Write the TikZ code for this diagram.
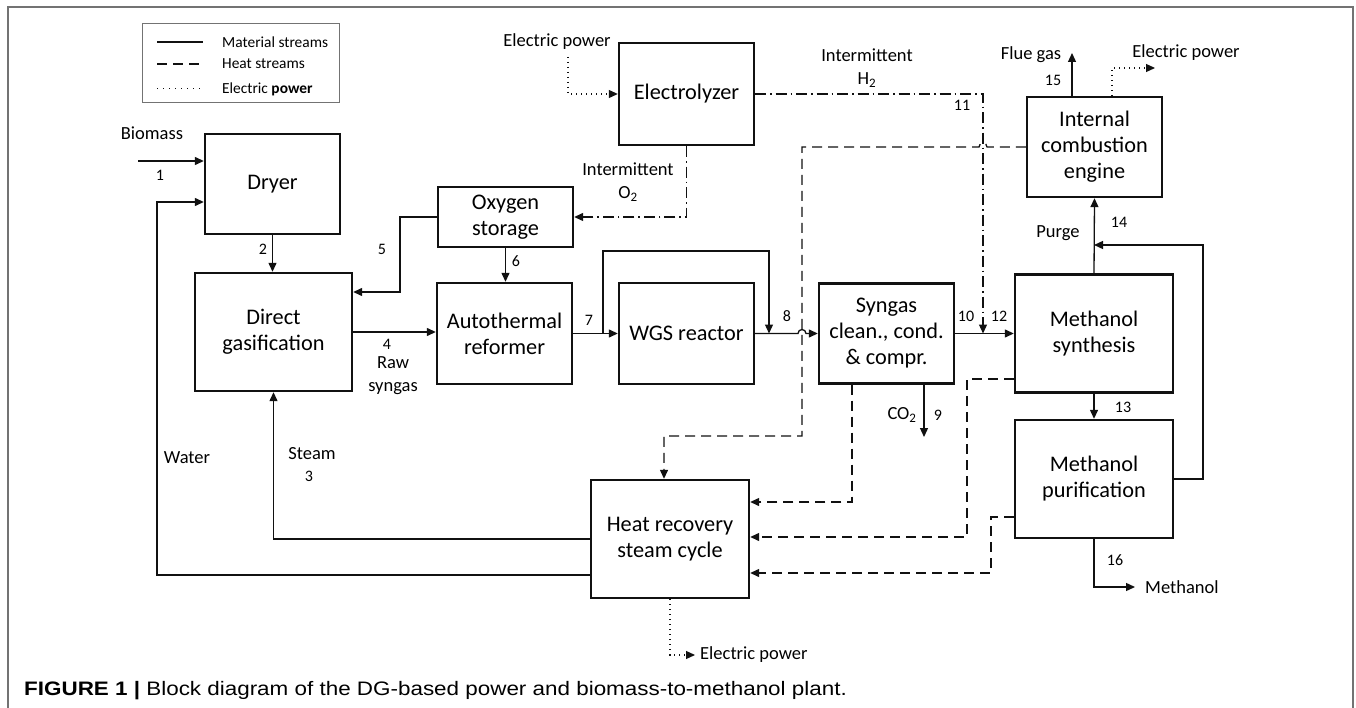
\documentclass[tikz,border=0pt]{standalone}
\usepackage{fontspec}
\setmainfont{Carlito}
\newfontfamily\capfont{Liberation Sans}
\usetikzlibrary{arrows.meta,calc}
\definecolor{framegray}{HTML}{737373}
\definecolor{ink}{HTML}{111111}
\begin{document}
\begin{tikzpicture}[x=1pt,y=-1pt,
  box/.style={draw=ink, line width=2.4pt, align=center, font=\fontsize{22.3}{26}\selectfont, inner sep=0pt},
  tip/.style={-{Triangle[length=9pt,width=8pt]}},
  mat/.style={draw=ink, line width=1.3pt, tip},
  heat/.style={draw=ink, line width=1.3pt, dash pattern=on 10pt off 6pt, tip},
  dd/.style={draw=ink, line width=1.3pt, dash pattern=on 11pt off 4pt on 1.5pt off 4pt, tip},
  elec/.style={draw=ink, line width=1.2pt, dash pattern=on 1pt off 4pt, tip},
  lab/.style={font=\fontsize{18.5}{23}\selectfont, inner sep=0pt, align=center},
  num/.style={font=\fontsize{16}{18}\selectfont, inner sep=0pt},
  leg/.style={font=\fontsize{15.4}{17}\selectfont, inner sep=0pt, anchor=west},
]
\useasboundingbox (0,0) rectangle (1356,708);
\fill[white] (0,0) rectangle (1356,708);
\draw[framegray, line width=1.5pt] (8,708) -- (8,7) -- (1353,7) -- (1353,708);

% legend
\draw[framegray, line width=1pt] (142,24) rectangle (339,103);
\coordinate (lg1a) at (157,42); \coordinate (lg1b) at (203,42);
\coordinate (lg2a) at (157,64); \coordinate (lg2b) at (203,64);
\coordinate (lg3a) at (157,89); \coordinate (lg3b) at (203,89);
\draw[ink, line width=1.3pt] (lg1a) -- (lg1b);
\draw[ink, line width=1.3pt, dash pattern=on 10pt off 6pt] (lg2a) -- (lg2b);
\draw[ink, line width=1pt, dash pattern=on 1pt off 5pt] (lg3a) -- (lg3b);
\node[leg] (lt1) at (222,42) {Material streams};
\node[leg] (lt2) at (222,64) {Heat streams};
\node[leg] (lt3) at (222,89) {Electric \textbf{power}};

% boxes
\node[box, minimum width=135pt, minimum height=100pt] (dryer) at (272.5,184) {Dryer};
\node[box, minimum width=157pt, minimum height=118pt] (gas) at (273.5,332) {Direct\\gasification};
\node[box, minimum width=135pt, minimum height=60pt] (oxy) at (505.5,217) {Oxygen\\storage};
\node[box, minimum width=135pt, minimum height=101pt] (atr) at (504.5,333.5) {Autothermal\\reformer};
\node[box, minimum width=135pt, minimum height=101pt] (wgs) at (686.5,333.5) {WGS reactor};
\node[box, minimum width=135pt, minimum height=100pt] (syn) at (886.5,333.5) {Syngas\\clean., cond.\\\& compr.};
\node[box, minimum width=158pt, minimum height=118pt] (ms) at (1094,333.5) {Methanol\\synthesis};
\node[box, minimum width=158pt, minimum height=118pt] (mp) at (1094,479) {Methanol\\purification};
\node[box, minimum width=135pt, minimum height=100pt] (ice) at (1094.5,147) {Internal\\combustion\\engine};
\node[box, minimum width=135pt, minimum height=102pt] (ely) at (686.5,94) {Electrolyzer};
\node[box, minimum width=158pt, minimum height=118pt] (hr) at (670,539) {Heat recovery\\steam cycle};

% coordinates
\coordinate (bio) at (138,161);
\coordinate (wc1) at (157,575);
\coordinate (wc2) at (157,202);
\coordinate (o5) at (400,292);
\coordinate (b2) at (603,251);
\coordinate (b3) at (769,251);
\coordinate (h2c) at (983,94);
\coordinate (e1) at (568,57);
\coordinate (fg) at (1072,53);
\coordinate (ep0) at (1112,68);
\coordinate (ep) at (1155,68);
\coordinate (rc) at (1203,245);
\coordinate (co2) at (924,437);
\coordinate (m16) at (1094,587);
\coordinate (m16e) at (1135,587);
\coordinate (hi1) at (802,147);
\coordinate (hi2) at (802,436);
\coordinate (hi3) at (664,436);
\coordinate (hs) at (852,502);
\coordinate (hm1) at (967,379);
\coordinate (hm2) at (967,537);
\coordinate (hp1) at (991,517);
\coordinate (hp2) at (991,573);
\coordinate (eh) at (670,655);
\coordinate (eh2) at (695,655);

% material streams
\draw[mat] (bio) -- (bio -| dryer.west);
\draw[mat] (wc1 -| hr.west) -- (wc1) -- (wc2) -- (wc2 -| dryer.west);
\draw[mat] (hr.west) -- (hr.west -| gas.south) -- (gas.south);
\draw[mat] (dryer.south) -- (dryer.south |- gas.north);
\draw[mat] (oxy.west) -- (oxy.west -| o5) -- (o5) -- (o5 -| gas.east);
\draw[mat] (oxy.south) -- (oxy.south |- atr.north);
\draw[mat] (gas.east) -- (gas.east -| atr.west);
\draw[mat] (atr.east) -- (atr.east -| wgs.west);
\draw[mat] (atr.east -| b2) -- (b2) -- (b3) -- (b3 |- wgs.east);
\draw[mat] (wgs.east) -- ($(hi1 |- wgs.east)+(-4pt,0)$) arc[start angle=180, end angle=0, radius=4pt] -- (syn.west);
\draw[mat] (syn.east) -- (syn.east -| ms.west);
\draw[mat] (fg |- ice.north) -- (fg);
\draw[mat] (ms.north) -- (ice.south);
\draw[mat] (mp.east) -- (mp.east -| rc) -- (rc) -- (rc -| ms.north);
\draw[mat] (ms.south) -- (mp.north);
\draw[mat] (co2 |- syn.south) -- (co2);
\draw[mat] (mp.south) -- (m16) -- (m16e);

% hydrogen / oxygen
\draw[dd] (ely.east) -- (h2c) -- (h2c |- syn.east);
\draw[dd] (ely.south) -- (ely.south |- oxy.east) -- (oxy.east);

% heat streams
\draw[heat] (ice.west) -- ($(h2c |- ice.west)+(4pt,0)$) arc[start angle=0, end angle=180, radius=4pt] -- (hi1) -- (hi2) -- (hi3) -- (hi3 |- hr.north);
\draw[heat] (hs |- syn.south) -- (hs) -- (hs -| hr.east);
\draw[heat] (hm1 -| ms.west) -- (hm1) -- (hm2) -- (hm2 -| hr.east);
\draw[heat] (hp1 -| mp.west) -- (hp1) -- (hp2) -- (hp2 -| hr.east);

% electric power
\draw[elec] (e1) -- (e1 |- ely.west) -- (ely.west);
\draw[elec] (ep0 |- ice.north) -- (ep0) -- (ep);
\draw[elec] (hr.south) -- (eh) -- (eh2);

% labels
\node[lab] (tbio) at (152,133) {Biomass};
\node[num] (n1) at (160,175) {1};
\node[num] (n2) at (263,249) {2};
\node[num] (n5) at (382,249) {5};
\node[num] (n4) at (387,344) {4};
\node[lab] (traw) at (393,376) {Raw\\syngas};
\node[num] (n6) at (516,261) {6};
\node[num] (n7) at (589,320) {7};
\node[num] (n8) at (787,316) {8};
\node[lab] (to2) at (628,182) {Intermittent\\O\textsubscript{2}};
\node[lab] (tep1) at (557,42) {Electric power};
\node[lab] (th2) at (867,68) {Intermittent\\H\textsubscript{2}};
\node[num] (n11) at (962,105) {11};
\node[lab] (tfg) at (1031,55) {Flue gas};
\node[num] (n15) at (1053,80) {15};
\node[lab] (tep2) at (1186,53) {Electric power};
\node[num] (n14) at (1119,222) {14};
\node[lab] (tpurge) at (1058,233) {Purge};
\node[num] (n10) at (966,316) {10};
\node[num] (n12) at (999,316) {12};
\node[lab] (tco2) at (902,415) {CO\textsubscript{2}};
\node[num] (n9) at (938,415) {9};
\node[num] (n13) at (1123,407) {13};
\node[num] (n16) at (1115,560) {16};
\node[lab, anchor=west] (tmeoh) at (1145,587) {Methanol};
\node[lab] (twater) at (187,458) {Water};
\node[lab] (tsteam) at (312,454) {Steam};
\node[num] (n3) at (309,476) {3};
\node[lab, anchor=west] (tep3) at (700,655) {Electric power};

% caption
\node[anchor=base west, inner sep=0pt, font=\capfont\fontsize{19.5}{21}\selectfont] (cap) at (24,695) {\scalebox{1.15}[1]{\textbf{FIGURE 1 |} Block diagram of the DG-based power and biomass-to-methanol plant.}};
\end{tikzpicture}
\end{document}
